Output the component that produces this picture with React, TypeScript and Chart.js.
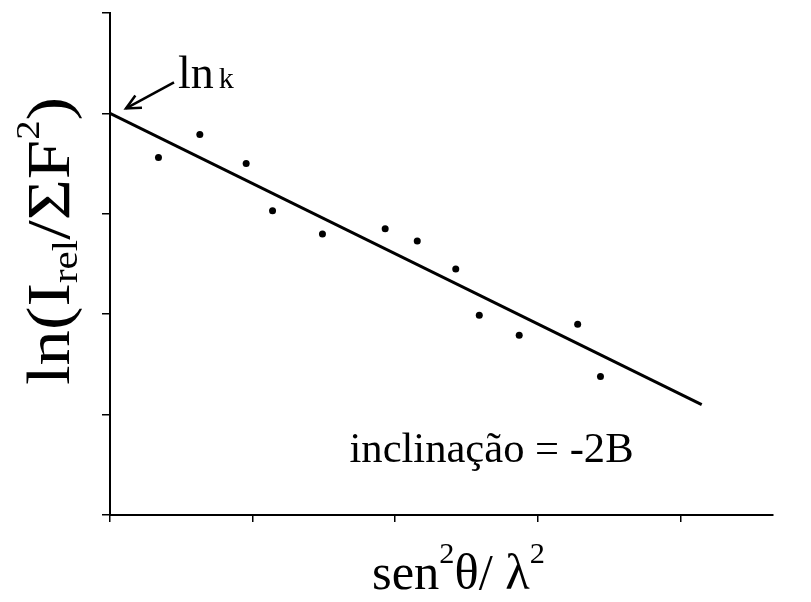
import React, { useEffect, useRef } from "react";
import { Chart, registerables } from "chart.js";

Chart.register(...registerables);

// Measured points: x = sen²θ/λ², y = ln(I_rel/ΣF²)
const pointX = [0.34, 0.63, 0.955, 1.14, 1.49, 1.93, 2.155, 2.425, 2.59, 2.87, 3.28, 3.44];
const pointY = [3.56, 3.79, 3.50, 3.03, 2.80, 2.85, 2.73, 2.45, 1.99, 1.79, 1.90, 1.38];
// Fitted straight line (start at ln k, end of drawn segment)
const fitX = [0, 4.15];
const fitY = [4.0, 1.1];
const xTicks = [0, 1, 2, 3, 4];
const yTicks = [0, 1, 2, 3, 4, 5];
const lnKLabel = ["ln", "k"];
const slopeLabel = "inclinação = -2B";

const SERIF = '"Liberation Serif", "Times New Roman", serif';

type Seg = { t: string; size: number; dy?: number; gap?: number };

function drawRich(ctx: CanvasRenderingContext2D, segs: Seg[], targetWidth?: number) {
  let total = 0;
  for (const s of segs) {
    ctx.font = `${s.size}px ${SERIF}`;
    total += ctx.measureText(s.t).width + (s.gap || 0);
  }
  const sx = targetWidth ? targetWidth / total : 1;
  ctx.save();
  ctx.scale(sx, 1);
  let x = 0;
  for (const s of segs) {
    ctx.font = `${s.size}px ${SERIF}`;
    x += s.gap || 0;
    ctx.fillText(s.t, x, s.dy || 0);
    x += ctx.measureText(s.t).width;
  }
  ctx.restore();
}

const annotations = {
  id: "annotations",
  afterDraw(chart: any) {
    const ctx: CanvasRenderingContext2D = chart.ctx;
    const xs = chart.scales.x;
    const ys = chart.scales.y;
    const area = chart.chartArea;
    ctx.save();
    ctx.fillStyle = "#000";
    ctx.strokeStyle = "#000";
    ctx.textBaseline = "alphabetic";
    ctx.textAlign = "left";

    // ln k arrow pointing to intercept
    const ix = xs.getPixelForValue(fitX[0]);
    const iy = ys.getPixelForValue(fitY[0]);
    const tipX = ix + 16, tipY = iy - 5;
    const tailX = ix + 64, tailY = iy - 31;
    ctx.lineWidth = 2.5;
    ctx.beginPath();
    ctx.moveTo(tailX, tailY);
    ctx.lineTo(tipX, tipY);
    ctx.stroke();
    const ang = Math.atan2(tipY - tailY, tipX - tailX);
    const wing = 16;
    ctx.beginPath();
    ctx.moveTo(tipX - wing * Math.cos(ang - 0.45), tipY - wing * Math.sin(ang - 0.45));
    ctx.lineTo(tipX, tipY);
    ctx.lineTo(tipX - wing * Math.cos(ang + 0.45), tipY - wing * Math.sin(ang + 0.45));
    ctx.stroke();

    ctx.save();
    ctx.translate(ix + 68, iy - 25);
    drawRich(ctx, [
      { t: lnKLabel[0], size: 46 },
      { t: lnKLabel[1], size: 30, gap: 5 },
    ]);
    ctx.restore();

    // slope label
    ctx.save();
    ctx.translate(xs.getPixelForValue(1.68), ys.getPixelForValue(0.53));
    drawRich(ctx, [{ t: slopeLabel, size: 42 }], 284);
    ctx.restore();

    // x-axis title
    ctx.save();
    ctx.translate(area.left + 262, area.bottom + 74);
    drawRich(
      ctx,
      [
        { t: "sen", size: 50 },
        { t: "2", size: 30, dy: -26 },
        { t: "θ/ λ", size: 50 },
        { t: "2", size: 30, dy: -26 },
      ],
      173
    );
    ctx.restore();

    // y-axis title
    ctx.save();
    ctx.translate(area.left - 41, area.bottom - 130);
    ctx.rotate(-Math.PI / 2);
    drawRich(
      ctx,
      [
        { t: "ln(I", size: 62 },
        { t: "rel", size: 36, dy: 8 },
        { t: "/ΣF", size: 62 },
        { t: "2", size: 34, dy: -30 },
        { t: ")", size: 62 },
      ],
      288
    );
    ctx.restore();

    ctx.restore();
  },
};

export default function App() {
  const ref = useRef<HTMLCanvasElement | null>(null);
  useEffect(() => {
    if (!ref.current) return;
    const chart = new Chart(ref.current, {
      type: "scatter",
      data: {
        datasets: [
          {
            type: "line",
            data: fitX.map((x, i) => ({ x, y: fitY[i] })),
            borderColor: "#000",
            borderWidth: 3,
            pointRadius: 0,
            tension: 0,
            fill: false,
          } as any,
          {
            type: "scatter",
            data: pointX.map((x, i) => ({ x, y: pointY[i] })),
            backgroundColor: "#000",
            borderColor: "#000",
            pointRadius: 3.5,
            borderWidth: 0,
          },
        ],
      },
      options: {
        animation: false,
        responsive: true,
        maintainAspectRatio: false,
        layout: { padding: { left: 100, top: 13, right: 38, bottom: 77 } },
        plugins: { legend: { display: false }, tooltip: { enabled: false } },
        scales: {
          x: {
            type: "linear",
            min: 0,
            max: 4.65,
            afterFit: (s: any) => {
              s.height = 10;
            },
            afterBuildTicks: (s: any) => {
              s.ticks = xTicks.map((v) => ({ value: v }));
            },
            ticks: { display: false, stepSize: 1, includeBounds: false },
            grid: {
              display: true,
              drawOnChartArea: false,
              drawTicks: true,
              tickLength: 7,
              color: "#000",
              lineWidth: 1.5,
            },
            border: { display: true, color: "#000", width: 2 },
          },
          y: {
            type: "linear",
            min: 0,
            max: 5,
            afterFit: (s: any) => {
              s.width = 10;
            },
            afterBuildTicks: (s: any) => {
              s.ticks = yTicks.map((v) => ({ value: v }));
            },
            ticks: { display: false, stepSize: 1 },
            grid: {
              display: true,
              drawOnChartArea: false,
              drawTicks: true,
              tickLength: 8,
              color: "#000",
              lineWidth: 1.5,
            },
            border: { display: true, color: "#000", width: 2 },
          },
        },
      },
      plugins: [annotations],
    });
    return () => chart.destroy();
  }, []);
  return (
    <div style={{ position: "fixed", left: 0, top: 0, width: 811, height: 602, background: "#fff" }}>
      <canvas ref={ref} />
    </div>
  );
}
